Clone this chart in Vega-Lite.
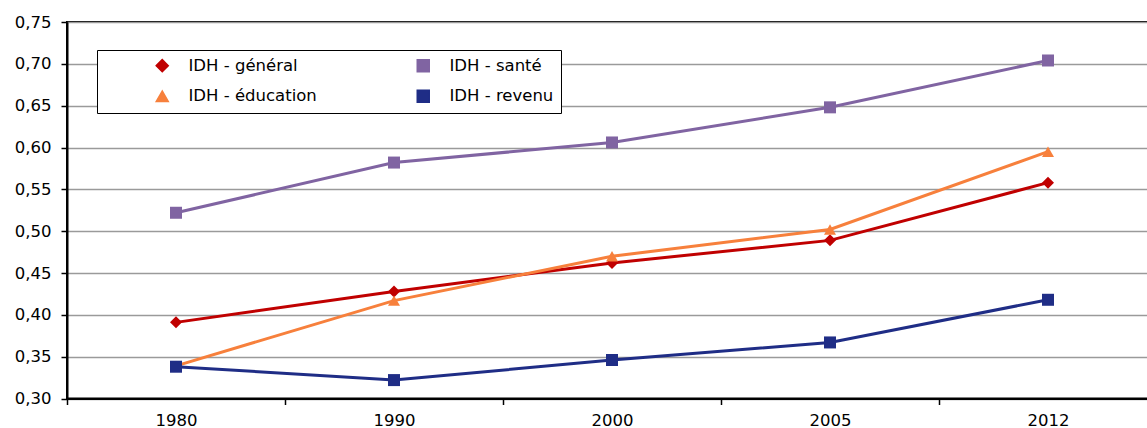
{
  "$schema": "https://vega.github.io/schema/vega-lite/v6.json",
  "width": 1090,
  "height": 376.5,
  "autosize": {"type": "none"},
  "padding": {"left": 67, "top": 22, "right": 0, "bottom": 30},
  "background": "white",
  "config": {
    "view": {"stroke": "black", "strokeWidth": 2},
    "font": "DejaVu Sans"
  },
  "data": {
    "values": [
      {"annee": "1980", "serie": "IDH - général", "valeur": 0.391},
      {"annee": "1990", "serie": "IDH - général", "valeur": 0.428},
      {"annee": "2000", "serie": "IDH - général", "valeur": 0.462},
      {"annee": "2005", "serie": "IDH - général", "valeur": 0.489},
      {"annee": "2012", "serie": "IDH - général", "valeur": 0.558},
      {"annee": "1980", "serie": "IDH - santé", "valeur": 0.522},
      {"annee": "1990", "serie": "IDH - santé", "valeur": 0.582},
      {"annee": "2000", "serie": "IDH - santé", "valeur": 0.606},
      {"annee": "2005", "serie": "IDH - santé", "valeur": 0.648},
      {"annee": "2012", "serie": "IDH - santé", "valeur": 0.704},
      {"annee": "1980", "serie": "IDH - éducation", "valeur": 0.339},
      {"annee": "1990", "serie": "IDH - éducation", "valeur": 0.417},
      {"annee": "2000", "serie": "IDH - éducation", "valeur": 0.470},
      {"annee": "2005", "serie": "IDH - éducation", "valeur": 0.502},
      {"annee": "2012", "serie": "IDH - éducation", "valeur": 0.595},
      {"annee": "1980", "serie": "IDH - revenu", "valeur": 0.338},
      {"annee": "1990", "serie": "IDH - revenu", "valeur": 0.322},
      {"annee": "2000", "serie": "IDH - revenu", "valeur": 0.346},
      {"annee": "2005", "serie": "IDH - revenu", "valeur": 0.367},
      {"annee": "2012", "serie": "IDH - revenu", "valeur": 0.418}
    ]
  },
  "encoding": {
    "x": {
      "field": "annee", "type": "ordinal", "sort": null,
      "scale": {"paddingInner": 0, "paddingOuter": 0},
      "axis": {
        "title": null, "labelAngle": 0, "grid": false,
        "tickBand": "extent", "tickSize": 6, "tickColor": "black", "tickWidth": 1.5,
        "domainColor": "black", "domainWidth": 2,
        "labelFont": "DejaVu Sans", "labelFontSize": 16.5, "labelColor": "black", "labelPadding": 8
      }
    },
    "y": {
      "field": "valeur", "type": "quantitative",
      "scale": {"domain": [0.3, 0.75], "nice": false, "zero": false},
      "axis": {
        "title": null,
        "values": [0.3, 0.35, 0.4, 0.45, 0.5, 0.55, 0.6, 0.65, 0.7, 0.75],
        "labelExpr": "replace(format(datum.value, '.2f'), '.', ',')",
        "grid": true, "gridColor": "#9a9a9a", "gridWidth": 1.5,
        "tickSize": 6, "tickColor": "black", "tickWidth": 1.5,
        "domainColor": "black", "domainWidth": 2,
        "labelFont": "DejaVu Sans", "labelFontSize": 16.5, "labelColor": "black", "labelPadding": 10
      }
    },
    "color": {
      "field": "serie", "type": "nominal",
      "scale": {
        "domain": ["IDH - général", "IDH - santé", "IDH - éducation", "IDH - revenu"],
        "range": ["#C00000", "#8064A2", "#F7803C", "#1F2D86"]
      },
      "legend": {
        "title": null,
        "orient": "none", "legendX": 30, "legendY": 28,
        "columns": 2, "direction": "horizontal",
        "strokeColor": "black", "fillColor": "white",
        "padding": 7, "rowPadding": 12, "columnPadding": 48,
        "symbolSize": 144, "symbolOffset": 50, "labelOffset": 18,
        "labelFont": "DejaVu Sans", "labelFontSize": 16.5, "labelColor": "black"
      }
    }
  },
  "layer": [
    {"mark": {"type": "line", "strokeWidth": 3}},
    {
      "mark": {"type": "point", "filled": true, "size": 144, "opacity": 1},
      "encoding": {
        "shape": {
          "field": "serie", "type": "nominal",
          "scale": {
            "domain": ["IDH - général", "IDH - santé", "IDH - éducation", "IDH - revenu"],
            "range": ["diamond", "square", "triangle-up", "square"]
          },
          "legend": null
        }
      }
    }
  ]
}
